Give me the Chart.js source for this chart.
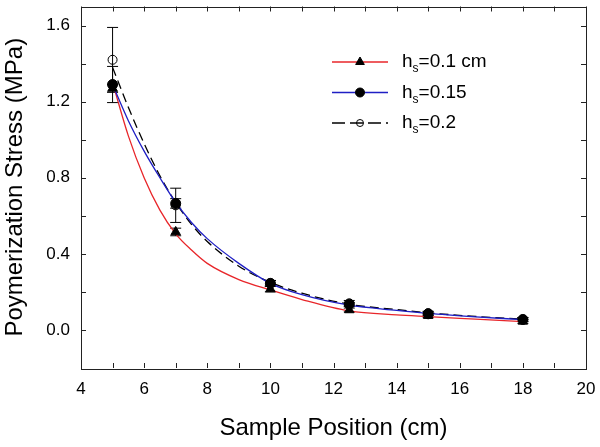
<!DOCTYPE html>
<html>
<head>
<meta charset="utf-8">
<script src="https://cdn.jsdelivr.net/npm/chart.js@4"></script>
<style>
  html, body { margin: 0; padding: 0; background: #fff; }
  #chart { display: block; }
</style>
</head>
<body>
<canvas id="chart" width="600" height="447"></canvas>
<script>
// measured points
const positions = [5, 7, 10, 12.5, 15, 18]
const stress01 = [1.27, 0.515, 0.215, 0.105, 0.075, 0.045]
const stress015 = [1.29, 0.665, 0.245, 0.135, 0.085, 0.055]
const stress02 = [1.42, 0.655, 0.245, 0.14, 0.088, 0.055]
const err01 = [0.02, 0.02, 0.015, 0.01, 0.01, 0.01]
const err015 = [0.095, 0.025, 0.015, 0.01, 0.01, 0.01]
const err02 = [0.17, 0.09, 0.015, 0.015, 0.01, 0.01]

// fitted curves
const fitX = [5, 5.5, 6, 6.5, 7, 7.5, 8, 9, 10, 11, 12.5, 14, 15, 16.5, 18]
const fit01 = [1.30, 1.02, 0.80, 0.63, 0.505, 0.42, 0.35, 0.265, 0.21, 0.16, 0.1, 0.079, 0.07, 0.057, 0.044]
const fit015 = [1.29, 1.10, 0.94, 0.80, 0.67, 0.565, 0.48, 0.35, 0.245, 0.185, 0.13, 0.103, 0.087, 0.069, 0.054]
const fit02 = [1.38, 1.17, 0.98, 0.81, 0.67, 0.555, 0.465, 0.335, 0.25, 0.193, 0.135, 0.107, 0.09, 0.071, 0.057]

const seriesNames = ['=0.1 cm', '=0.15', '=0.2']
const xTicks = [4, 6, 8, 10, 12, 14, 16, 18, 20]
const yTicks = [0.0, 0.4, 0.8, 1.2, 1.6]
const xMinor = [5, 7, 9, 11, 13, 15, 17, 19]
const yMinor = [0.2, 0.6, 1.0, 1.4]

const FONT = '"Liberation Sans", Arial, sans-serif'
const RED = '#e8262a'
const BLUE = '#1f1fc4'

const pts = (xs, ys) => xs.map((x, i) => ({ x: x, y: ys[i] }))

const curve = (data, color, dash, order) => ({
  data: data,
  showLine: true,
  borderColor: color,
  borderWidth: 1.3,
  borderDash: dash,
  pointRadius: 0,
  cubicInterpolationMode: 'monotone',
  order: order
})

const markers = (data, style, fill, radius, errs, order) => ({
  data: data,
  showLine: false,
  pointStyle: style,
  pointRadius: radius,
  pointBackgroundColor: fill,
  pointBorderColor: '#000',
  pointBorderWidth: 1,
  errors: errs,
  order: order
})

// error bars, drawn under the markers
const errorBars = {
  id: 'errorBars',
  beforeDatasetsDraw(chart) {
    const ctx = chart.ctx
    const xs = chart.scales.x, ys = chart.scales.y
    ctx.save()
    ctx.strokeStyle = '#000'
    ctx.lineWidth = 1
    chart.data.datasets.forEach(ds => {
      if (!ds.errors) return
      ds.data.forEach((p, i) => {
        const px = xs.getPixelForValue(p.x)
        const top = ys.getPixelForValue(p.y + ds.errors[i])
        const bot = ys.getPixelForValue(p.y - ds.errors[i])
        ctx.beginPath()
        ctx.moveTo(px, top); ctx.lineTo(px, bot)
        ctx.moveTo(px - 5.5, top); ctx.lineTo(px + 5.5, top)
        ctx.moveTo(px - 5.5, bot); ctx.lineTo(px + 5.5, bot)
        ctx.stroke()
      })
    })
    ctx.restore()
  }
}

// frame with inward ticks on all four sides, and the legend
const frame = {
  id: 'frame',
  afterDraw(chart) {
    const ctx = chart.ctx
    const a = chart.chartArea
    const xs = chart.scales.x, ys = chart.scales.y
    const len = 5
    ctx.save()
    ctx.strokeStyle = '#222'
    ctx.lineWidth = 1
    ctx.strokeRect(Math.round(a.left) + 0.5, Math.round(a.top) + 0.5,
      Math.round(a.right - a.left), Math.round(a.bottom - a.top))
    ctx.beginPath()
    xTicks.concat(xMinor).forEach(v => {
      const px = Math.round(xs.getPixelForValue(v)) + 0.5
      ctx.moveTo(px, a.bottom); ctx.lineTo(px, a.bottom - len)
      ctx.moveTo(px, a.top); ctx.lineTo(px, a.top + len)
    })
    yTicks.concat(yMinor).forEach(v => {
      const py = Math.round(ys.getPixelForValue(v)) + 0.5
      ctx.moveTo(a.left, py); ctx.lineTo(a.left + len, py)
      ctx.moveTo(a.right, py); ctx.lineTo(a.right - len, py)
    })
    ctx.stroke()

    // legend
    const rows = [
      { color: RED, dash: [], style: 'triangle', fill: '#000', r: 5 },
      { color: BLUE, dash: [], style: 'circle', fill: '#000', r: 4.5 },
      { color: '#000', dash: [13, 5], style: 'circle', fill: 'rgba(0,0,0,0)', r: 3.5 }
    ]
    rows.forEach((row, i) => {
      const y = 62 + i * 30.5
      ctx.strokeStyle = row.color
      ctx.lineWidth = 1.3
      ctx.setLineDash(row.dash)
      ctx.beginPath()
      ctx.moveTo(332, y); ctx.lineTo(388, y)
      ctx.stroke()
      ctx.setLineDash([])
      ctx.fillStyle = row.fill
      ctx.strokeStyle = '#000'
      ctx.lineWidth = 1
      Chart.helpers.drawPoint(ctx, { pointStyle: row.style, radius: row.r, borderWidth: 1 }, 360, y)
      ctx.fillStyle = '#000'
      ctx.textBaseline = 'middle'
      ctx.textAlign = 'left'
      ctx.font = '19px ' + FONT
      ctx.fillText('h', 402, y)
      const hw = ctx.measureText('h').width
      ctx.font = '12px ' + FONT
      ctx.fillText('s', 402 + hw, y + 7)
      const sw = ctx.measureText('s').width
      ctx.font = '19px ' + FONT
      ctx.fillText(seriesNames[i], 402 + hw + sw, y)
    })
    ctx.restore()
  }
}

const noPad = s => { s.paddingTop = 0; s.paddingBottom = 0; s.paddingLeft = 0; s.paddingRight = 0 }

new Chart(document.getElementById('chart'), {
  type: 'scatter',
  data: {
    datasets: [
      markers(pts(positions, stress015), 'circle', '#000', 5, err015, 1),
      markers(pts(positions, stress01), 'triangle', '#000', 5.5, err01, 2),
      markers(pts(positions, stress02), 'circle', 'rgba(0,0,0,0)', 4.5, err02, 3),
      curve(pts(fitX, fit015), BLUE, [], 5),
      curve(pts(fitX, fit01), RED, [], 6),
      curve(pts(fitX, fit02), '#000', [9, 5], 7)
    ]
  },
  options: {
    responsive: false,
    animation: false,
    layout: { padding: { top: 4, right: 14, left: 0, bottom: 0 } },
    plugins: { legend: { display: false }, tooltip: { enabled: false } },
    scales: {
      x: {
        type: 'linear',
        min: 4,
        max: 20,
        afterBuildTicks: s => { s.ticks = xTicks.map(v => ({ value: v })) },
        afterFit: s => { s.height = 79; noPad(s) },
        grid: { display: false, drawTicks: false },
        border: { display: false },
        ticks: { color: '#000', padding: 11, font: { family: FONT, size: 17 }, maxRotation: 0 },
        title: {
          display: true,
          text: 'Sample Position (cm)',
          color: '#000',
          font: { family: FONT, size: 24 },
          padding: { top: 0, bottom: 4 }
        }
      },
      y: {
        min: -0.2,
        max: 1.7,
        afterBuildTicks: s => { s.ticks = yTicks.map(v => ({ value: v })) },
        afterFit: s => { s.width = 81; noPad(s) },
        grid: { display: false, drawTicks: false },
        border: { display: false },
        ticks: {
          color: '#000',
          padding: 11,
          font: { family: FONT, size: 17 },
          callback: v => v.toFixed(1)
        },
        title: {
          display: true,
          text: 'Poymerization Stress (MPa)',
          color: '#000',
          font: { family: FONT, size: 24 },
          padding: { top: 1, bottom: 0 }
        }
      }
    }
  },
  plugins: [errorBars, frame]
})
</script>
</body>
</html>
